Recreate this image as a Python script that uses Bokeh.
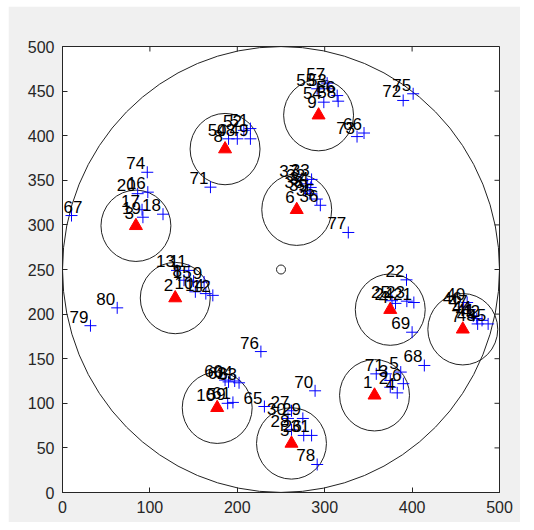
import numpy as np
from bokeh.plotting import figure
from bokeh.models import Range1d, FixedTicker, Label
from bokeh.embed import file_html
from bokeh.resources import INLINE

# ---- data ----
head_id = [1, 2, 3, 4, 5, 6, 7, 8, 9, 10]
head_x = [357, 129, 84, 375, 262, 268, 458, 186, 293, 177]
head_y = [109, 218, 299, 205, 55, 317, 183, 385, 423, 95]
cluster_r = 40

node_id = [7, 1, 5, 3, 6, 2, 4,
           8, 9, 10, 11, 12, 13, 14, 15,
           16, 17, 18, 19, 20,
           21, 22, 23, 24, 25,
           26, 27, 28, 29, 30, 31,
           32, 33, 34, 35, 36, 37, 38, 39,
           40, 41, 42, 43, 44, 45, 46, 47,
           48, 49, 50, 51, 52,
           53, 54, 55, 56, 57, 58,
           59, 60, 61, 62, 63, 64,
           65, 66, 67, 68, 69, 70, 71, 72, 73, 74, 75, 76, 77, 78, 79, 80]
node_x = [359, 370, 387, 375, 390, 375, 383,
          139, 162, 152, 144.5, 172, 131, 164, 150,
          97.6, 91, 115, 92, 86,
          402, 393.6, 394, 381, 377,
          276, 262, 262, 275, 258, 285,
          280, 285, 284, 291, 295, 272, 278, 283,
          463, 474, 480, 475, 470, 487, 459, 466,
          200, 215, 190, 215, 207.5,
          304.7, 299, 291.4, 314.3, 302.8, 315.4,
          189, 186, 195, 190, 202, 197,
          231, 345, 10.3, 414, 400, 289, 169.3, 389.8, 337, 97, 401.2, 227, 327, 291.4, 32, 62.6]
node_y = [133, 133, 135, 125.6, 122, 118, 111.7,
          238, 236, 225, 249, 221, 249, 223, 237,
          336.7, 317, 312, 308.6, 335,
          213, 238.4, 214.5, 212, 215,
          64, 91.6, 70.3, 83, 83, 64,
          346, 351, 342, 329, 322, 350, 338, 335,
          213, 195, 193, 189, 198, 189, 208, 205,
          396.5, 396.5, 396.5, 408, 406,
          452.6, 437.6, 452.6, 445, 458.9, 438.7,
          100, 126, 101, 124, 123, 125,
          96.4, 403, 310.5, 142.4, 179.7, 114, 342.3, 439.5, 399, 359, 447, 158, 291.5, 31.4, 187, 207]

field_cx = [250]
field_cy = [250]
field_r = 250

x_ticks = [0, 100, 200, 300, 400, 500]
y_ticks = [0, 50, 100, 150, 200, 250, 300, 350, 400, 450, 500]

AX = "#262626"
FONT = "Liberation Sans"
LABEL_SIZE = "17px"

p = figure(width=512, height=516, x_range=Range1d(0, 500), y_range=Range1d(0, 500),
           output_backend="svg", toolbar_location=None,
           min_border_left=54, min_border_right=21, min_border_top=40, min_border_bottom=30)
p.margin = (6, 0, 0, 8)
p.border_fill_color = "#f0f0f0"
p.background_fill_color = "white"
p.outline_line_color = AX
p.grid.visible = False

for ax in p.xaxis:
    ax.ticker = FixedTicker(ticks=x_ticks)
for ax in p.yaxis:
    ax.ticker = FixedTicker(ticks=y_ticks)
for ax in p.xaxis + p.yaxis:
    ax.major_tick_in = 5
    ax.major_tick_out = 0
    ax.minor_tick_line_color = None
    ax.axis_line_color = AX
    ax.major_tick_line_color = AX
    ax.major_label_text_color = AX
    ax.major_label_text_font = FONT
    ax.major_label_text_font_size = "16px"
    ax.major_label_standoff = 8

# inward ticks on the top and right edges of the box
y_top = p.y_range.end
x_right = p.x_range.end
p.ray(x=x_ticks, y=[y_top] * len(x_ticks), length=5, length_units="screen",
      angle=-np.pi / 2, line_color=AX, line_width=1)
p.ray(x=[x_right] * len(y_ticks), y=y_ticks, length=5, length_units="screen",
      angle=np.pi, line_color=AX, line_width=1)

# field boundary
p.ellipse(x=field_cx, y=field_cy, width=2 * field_r, height=2 * field_r,
          fill_color=None, line_color="#222222", line_width=1)
# cluster circles
p.ellipse(x=head_x, y=head_y, width=2 * cluster_r, height=2 * cluster_r,
          fill_color=None, line_color="#222222", line_width=1)
# sink
p.scatter(x=field_cx, y=field_cy, marker="circle", size=9, fill_color="white",
          line_color="#222222", line_width=1)
# nodes
p.scatter(x=node_x, y=node_y, marker="cross", size=12, line_color="#0000ff", line_width=1)
# cluster heads
p.scatter(x=head_x, y=head_y, marker="triangle", size=13, fill_color="#ff0000", line_color="#ff0000")

# labels: right-aligned just above-left of each mark; a label that would be cut by
# the left edge of the box is flipped to start at the edge instead
for xi, yi, ti in zip(node_x, node_y, node_id):
    near_edge = xi < 20
    p.add_layout(Label(x=xi, y=yi, text=str(ti), text_font=FONT, text_font_size=LABEL_SIZE,
                       text_align="left" if near_edge else "right", text_baseline="bottom",
                       x_offset=-8 if near_edge else -2, y_offset=3, text_color="black"))
for xi, yi, ti in zip(head_x, head_y, head_id):
    p.add_layout(Label(x=xi, y=yi, text=str(ti), text_font=FONT, text_font_size=LABEL_SIZE,
                       text_align="right", text_baseline="bottom",
                       x_offset=-2, y_offset=7, text_color="black"))

open("out.html", "w").write(file_html(p, INLINE))
